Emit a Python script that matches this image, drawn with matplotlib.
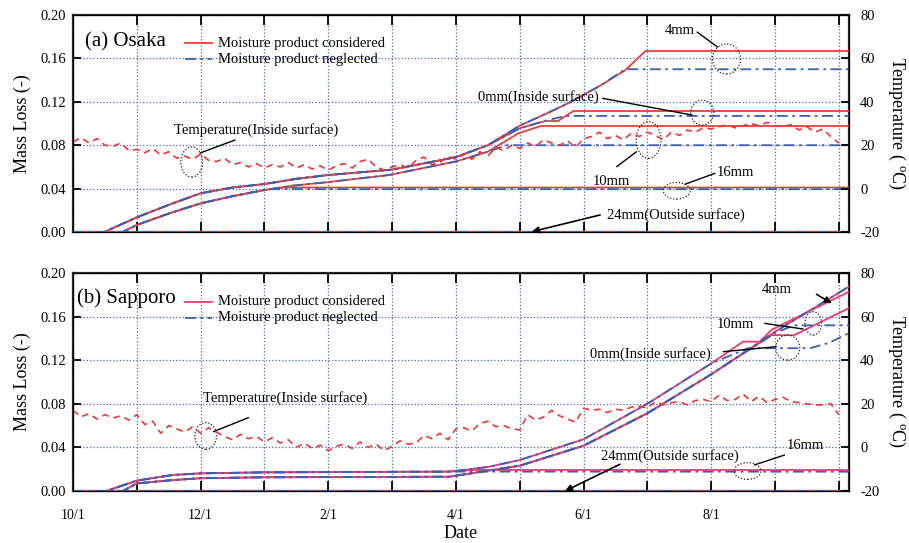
import numpy as np
import matplotlib
matplotlib.use("Agg")
import matplotlib.pyplot as plt
from matplotlib.patches import Ellipse
from matplotlib.lines import Line2D

plt.rcParams['font.family'] = ['Liberation Serif', 'DejaVu Serif']
plt.rcParams['mathtext.fontset'] = 'custom'
plt.rcParams['mathtext.rm'] = 'Liberation Serif'
plt.rcParams['axes.unicode_minus'] = False

# x axis is in months counted from 10/1
tick_months = list(range(13))
tick_labels = ['10/1', '', '12/1', '', '2/1', '', '4/1', '', '6/1', '', '8/1', '', '']

# ---------------- (a) Osaka : mass loss ----------------
osaka_up_m = [0, 0.49, 1.0, 1.5, 2.0, 2.5, 3.0, 3.5, 4.0, 5.0, 6.0, 6.5]
osaka_up = [0, 0, 0.0135, 0.025, 0.0357, 0.041, 0.0442, 0.049, 0.0525, 0.0575, 0.069, 0.080]
osaka_lo_m = [0, 0.78, 1.0, 1.5, 2.0, 2.5, 3.0]
osaka_lo = [0, 0, 0.0065, 0.017, 0.0264, 0.033, 0.0387]

osaka_4mm_con_m = osaka_up_m + [7.0, 7.45, 7.77, 8.28, 8.65, 8.97, 12.2]
osaka_4mm_con = osaka_up + [0.098, 0.110, 0.119, 0.1355, 0.149, 0.1668, 0.1668]
osaka_4mm_neg_m = osaka_up_m + [7.0, 7.45, 7.77, 8.28, 8.65, 12.2]
osaka_4mm_neg = osaka_up + [0.098, 0.110, 0.119, 0.1355, 0.150, 0.150]
osaka_0mm_con_m = osaka_up_m + [7.0, 7.4, 7.6, 7.84, 12.2]
osaka_0mm_con = osaka_up + [0.0956, 0.1023, 0.1023, 0.1115, 0.1115]
osaka_0mm_neg_m = osaka_up_m + [7.0, 7.4, 7.72, 12.2]
osaka_0mm_neg = osaka_up + [0.0956, 0.1025, 0.107, 0.107]
osaka_10mm_con_m = osaka_lo_m + [3.44, 4.0, 4.95, 6.0, 6.5, 6.98, 7.33, 12.2]
osaka_10mm_con = osaka_lo + [0.0427, 0.046, 0.0525, 0.065, 0.074, 0.091, 0.0977, 0.0977]
osaka_10mm_neg_m = osaka_lo_m + [3.44, 4.0, 4.95, 6.0, 6.5, 6.8, 12.2]
osaka_10mm_neg = osaka_lo + [0.0427, 0.046, 0.0525, 0.065, 0.074, 0.080, 0.080]
osaka_16mm_con_m = osaka_lo_m + [3.3, 12.2]
osaka_16mm_con = osaka_lo + [0.041, 0.041]
osaka_16mm_neg_m = osaka_lo_m + [3.1, 12.2]
osaka_16mm_neg = osaka_lo + [0.0395, 0.0395]
osaka_24mm_m = [0, 12.16]
osaka_24mm = [0, 0]

# inside surface temperature, every 0.125 month
temp_m = np.arange(97) * 0.125
osaka_temp = [21.5, 23.5, 21, 23, 20, 19.5, 21, 17.5, 18,
              16.5, 18.5, 15.5, 17, 14, 15, 13.5, 16,
              13, 12.5, 14, 11, 12, 10, 11.5, 9.5,
              11, 10, 12, 9.5, 11, 9, 10.5, 8.5,
              10.5, 11.5, 9.5, 12.5, 13.5, 10, 8.5, 10,
              11, 9.5, 13, 14.5, 11, 12, 15, 13.5,
              16, 13.5, 17, 15, 19, 17.5, 20, 18.5,
              21, 19.5, 22.5, 21, 20, 22, 19, 23,
              24, 26, 23, 24.5, 22.5, 25.5, 24, 26,
              24.5, 22.5, 26, 24.5, 27, 26, 28, 27.5,
              28.5, 29.5, 28, 29, 30, 29, 30.5, 29,
              28.5, 29.5, 27, 28.5, 26, 27.5, 24, 21]

# ---------------- (b) Sapporo : mass loss ----------------
sap_up_m = [0, 0.52, 1.0, 1.56, 2.0, 3.0, 5.9]
sap_up = [0, 0, 0.0095, 0.0147, 0.0162, 0.0171, 0.0178]
sap_lo_m = [0, 0.78, 1.0, 1.56, 2.0, 3.0, 5.9, 7.0, 8.0, 9.0, 10.0]
sap_lo = [0, 0, 0.007, 0.010, 0.0117, 0.0126, 0.0131, 0.0232, 0.0415, 0.0713, 0.107]

sap_0mm_con_m = sap_up_m + [6.5, 7.0, 8.0, 9.0, 10.0, 10.5, 10.76, 10.95, 12.2]
sap_0mm_con = sap_up + [0.022, 0.0284, 0.0474, 0.080, 0.117, 0.137, 0.137, 0.148, 0.184]
sap_0mm_neg_m = sap_up_m + [6.5, 7.0, 8.0, 9.0, 10.0, 10.58, 11.55, 11.85, 12.2]
sap_0mm_neg = sap_up + [0.022, 0.0284, 0.0474, 0.080, 0.117, 0.131, 0.131, 0.136, 0.146]
sap_4mm_m = sap_lo_m + [11.0, 12.2]
sap_4mm = sap_lo + [0.146, 0.189]
sap_10mm_con_m = sap_lo_m + [10.95, 11.3, 12.2]
sap_10mm_con = sap_lo + [0.143, 0.143, 0.169]
sap_10mm_neg_m = sap_lo_m + [11.0, 11.3, 12.2]
sap_10mm_neg = sap_lo + [0.145, 0.152, 0.152]
sap_16mm_con_m = sap_up_m + [6.3, 12.2]
sap_16mm_con = sap_up + [0.0193, 0.0193]
sap_16mm_neg_m = sap_up_m + [12.2]
sap_16mm_neg = sap_up + [0.0177]
sap_24mm_m = [0, 12.16]
sap_24mm = [0, 0]

sap_temp = [17, 14, 15.5, 13, 15, 13.5, 14.5, 12.5, 15,
            10.5, 12, 6.5, 10, 8.5, 7, 9.5, 6.5,
            9, 7, 5, 3.5, 6, 4, 5, 2.5,
            4.5, 2, 3.5, 0, 2, -0.5, 1, -1.5,
            0.5, 1.5, -0.5, 2.5, 0, 1.5, -1.5, 0.5,
            3, 1.5, 2, 5.5, 4, 6.5, 3.5, 8.5,
            9, 7.5, 11, 12, 9.5, 10, 8.5, 8,
            15, 12.5, 14, 17, 14.5, 13, 11.5, 18,
            17, 17.5, 16, 17.5, 17, 18.5, 19, 18,
            21, 19.5, 20.5, 21, 19.5, 21.5, 22, 21,
            24, 21.5, 22, 24.5, 21, 23.5, 20.5, 22,
            23, 21, 20.5, 20, 19.5, 19.5, 20, 15]

BLUE = '#3a5fb5'
GRID = '#4a68cc'
TEMP_RED = '#f03535'
DASHDOT = (6, 2.5, 1.5, 2.5)

W, H = 909, 543


def fx(x):
    return x / W


def fy(y):
    return 1 - y / H


def pair(ax, xr, yr, xb, yb, red, clip=True):
    ax.plot(xr, yr, color=red, lw=1.3, zorder=3, solid_capstyle='butt', clip_on=clip)
    ax.plot(xb, yb, color=BLUE, lw=1.3, dashes=DASHDOT, zorder=4, clip_on=clip)


def setup(ax, show_labels):
    ax.set_xlim(0, 12.16)
    ax.set_ylim(0, 0.2)
    ax.set_xticks(tick_months)
    ax.set_yticks([0, 0.04, 0.08, 0.12, 0.16, 0.20])
    ax.set_yticklabels(['0.00', '0.04', '0.08', '0.12', '0.16', '0.20'])
    if show_labels:
        ax.set_xticklabels(tick_labels)
    else:
        ax.set_xticklabels([])
    ax.tick_params(axis='x', direction='in', top=True, length=7, width=1.3, pad=13, labelsize=10)
    ax.tick_params(axis='y', direction='in', length=6, width=1.3, labelsize=10.5, pad=5)
    ax.grid(True, color=GRID, linestyle=':', linewidth=0.9)
    ax.set_axisbelow(True)
    for s in ax.spines.values():
        s.set_linewidth(1.6)
        s.set_color('#2a2a2a')
    ax.set_ylabel('Mass Loss (-)', fontsize=13, labelpad=7)
    tw = ax.twinx()
    tw.set_ylim(-20, 80)
    tw.set_yticks([-20, 0, 20, 40, 60, 80])
    tw.tick_params(axis='y', direction='in', length=6, width=1.3, labelsize=10.5, pad=8)
    tw.set_ylabel('Temperature ( $\\mathregular{^{o}}$C)', fontsize=13, rotation=270, labelpad=20)
    return tw


def note(ax, texts, lines, arrows, ellipses):
    for t, x, y in texts:
        ax.text(x, y, t, fontsize=10.5, ha='left', va='center', zorder=7)
    for (x0, y0), (x1, y1) in lines:
        ax.annotate('', xy=(x1, y1), xytext=(x0, y0),
                    arrowprops=dict(arrowstyle='-', color='black', lw=1.0, shrinkA=0, shrinkB=0), zorder=7)
    for (x0, y0), (x1, y1) in arrows:
        ax.annotate('', xy=(x1, y1), xytext=(x0, y0),
                    arrowprops=dict(arrowstyle='-|>', color='black', lw=1.2, mutation_scale=10,
                                    shrinkA=0, shrinkB=0), zorder=7, annotation_clip=False)
    for cx, cy, w, h in ellipses:
        ax.add_patch(Ellipse((cx, cy), w, h, fill=False, ec='#222222', lw=0.9,
                             ls=(0, (1, 1.5)), zorder=7))


def legend(fig, y_top, red):
    fig.add_artist(Line2D([fx(185), fx(212)], [fy(y_top), fy(y_top)], color=red, lw=1.3,
                          transform=fig.transFigure))
    fig.add_artist(Line2D([fx(185), fx(212)], [fy(y_top + 16), fy(y_top + 16)], color=BLUE, lw=1.3,
                          dashes=DASHDOT, transform=fig.transFigure))
    fig.text(fx(218), fy(y_top), 'Moisture product considered', fontsize=10.5, va='center', ha='left')
    fig.text(fx(218), fy(y_top + 16), 'Moisture product neglected', fontsize=10.5, va='center', ha='left')


fig = plt.figure(figsize=(W / 100, H / 100), dpi=100)
ax_a = fig.add_axes([fx(73), fy(232), 776 / W, 217 / H])
ax_b = fig.add_axes([fx(73), fy(491), 776 / W, 218 / H])

# ---- panel (a)
red_a = '#f23c3c'
tw_a = setup(ax_a, False)
pair(ax_a, osaka_24mm_m, osaka_24mm, osaka_24mm_m, osaka_24mm, red_a, clip=False)
pair(ax_a, osaka_16mm_con_m, osaka_16mm_con, osaka_16mm_neg_m, osaka_16mm_neg, red_a)
pair(ax_a, osaka_10mm_con_m, osaka_10mm_con, osaka_10mm_neg_m, osaka_10mm_neg, red_a)
pair(ax_a, osaka_0mm_con_m, osaka_0mm_con, osaka_0mm_neg_m, osaka_0mm_neg, red_a)
pair(ax_a, osaka_4mm_con_m, osaka_4mm_con, osaka_4mm_neg_m, osaka_4mm_neg, red_a)
tw_a.plot(temp_m, osaka_temp, color=TEMP_RED, lw=1.2, dashes=(4, 3))
note(ax_a,
     [('Temperature(Inside surface)', 1.58, 0.094), ('4mm', 9.27, 0.186),
      ('0mm(Inside surface)', 6.35, 0.1247), ('10mm', 8.15, 0.0464),
      ('16mm', 10.08, 0.0547), ('24mm(Outside surface)', 8.36, 0.0157)],
     [((2.54, 0.0848), (1.99, 0.0728)), ((9.78, 0.1843), (10.1, 0.1705)),
      ((8.30, 0.1232), (9.70, 0.1078)), ((8.52, 0.0602), (8.83, 0.074)),
      ((10.06, 0.0541), (9.59, 0.044))],
     [((8.26, 0.0157), (7.19, 0.0003))],
     [(1.86, 0.0645, 0.34, 0.0277), (10.24, 0.1595, 0.44, 0.0277),
      (9.86, 0.110, 0.36, 0.023), (9.02, 0.0848, 0.39, 0.0338),
      (9.46, 0.038, 0.42, 0.0154)])
fig.text(fx(85), fy(42), '(a) Osaka', fontsize=15, va='center', ha='left')
legend(fig, 43, red_a)

# ---- panel (b)
red_b = '#ee3b6c'
tw_b = setup(ax_b, True)
pair(ax_b, sap_24mm_m, sap_24mm, sap_24mm_m, sap_24mm, red_b, clip=False)
pair(ax_b, sap_16mm_con_m, sap_16mm_con, sap_16mm_neg_m, sap_16mm_neg, red_b)
pair(ax_b, sap_0mm_con_m, sap_0mm_con, sap_0mm_neg_m, sap_0mm_neg, red_b)
pair(ax_b, sap_10mm_con_m, sap_10mm_con, sap_10mm_neg_m, sap_10mm_neg, red_b)
pair(ax_b, sap_4mm_m, sap_4mm, sap_4mm_m, sap_4mm, red_b)
tw_b.plot(temp_m, sap_temp, color=TEMP_RED, lw=1.2, dashes=(4, 3))
note(ax_b,
     [('Temperature(Inside surface)', 2.04, 0.0856), ('4mm', 10.79, 0.185),
      ('10mm', 10.08, 0.1523), ('0mm(Inside surface)', 8.1, 0.1254),
      ('16mm', 11.18, 0.0422), ('24mm(Outside surface)', 8.28, 0.0321)],
     [((2.75, 0.0673), (2.20, 0.0544)), ((10.84, 0.1538), (11.44, 0.1486)),
      ((10.19, 0.1278), (11.02, 0.1324)), ((11.15, 0.033), (10.68, 0.0239))],
     [((11.65, 0.1805), (11.89, 0.1722)), ((8.57, 0.0245), (7.71, 0.0))],
     [(2.08, 0.0505, 0.34, 0.0245), (11.6, 0.1538, 0.26, 0.0214),
      (11.2, 0.1315, 0.376, 0.0229), (10.57, 0.0183, 0.42, 0.0153)])
fig.text(fx(77), fy(298), '(b) Sapporo', fontsize=15, va='center', ha='left')
legend(fig, 302, red_b)
ax_b.set_xlabel('Date', fontsize=13, labelpad=2)

fig.savefig('out.png', dpi=100)
